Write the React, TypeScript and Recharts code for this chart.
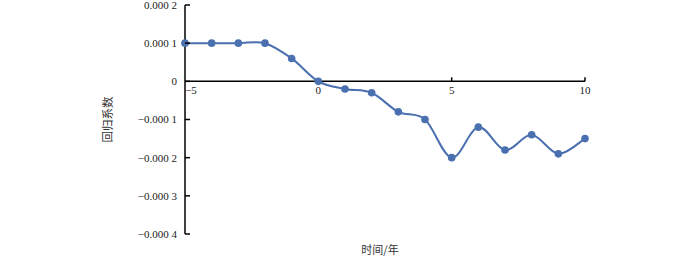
import React from 'react';
import { LineChart, Line, XAxis, YAxis, ReferenceLine, ReferenceDot, Label } from 'recharts';

const years = [-5, -4, -3, -2, -1, 0, 1, 2, 3, 4, 5, 6, 7, 8, 9, 10];
const coefficients = [
  0.0001, 0.0001, 0.0001, 0.0001, 0.00006, 0, -0.00002, -0.00003, -0.00008, -0.0001,
  -0.0002, -0.00012, -0.00018, -0.00014, -0.00019, -0.00015,
];
const yTicks = [0.0002, 0.0001, 0, -0.0001, -0.0002, -0.0003, -0.0004];
const yTickLabels = ['0.000 2', '0.000 1', '0', '\u22120.000 1', '\u22120.000 2', '\u22120.000 3', '\u22120.000 4'];
const xTicks = [-5, 0, 5, 10];
const xTickLabels = ['\u22125', '0', '5', '10'];

const data = years.map((t, i) => ({ t, v: coefficients[i] }));

const BLUE = '#4a70b0';
const SERIF = "'Liberation Serif', 'Times New Roman', serif";
const CJK = "'Noto Sans CJK SC', sans-serif";
const TICK_UP = 0.0000105;

// Catmull-Rom style smoothing (like spreadsheet "smooth line")
function smoothCurve(context: any) {
  let pts: number[][] = [];
  return {
    areaStart() {},
    areaEnd() {},
    lineStart() { pts = []; },
    point(x: number, y: number) { pts.push([+x, +y]); },
    lineEnd() {
      const n = pts.length;
      if (!n) return;
      context.moveTo(pts[0][0], pts[0][1]);
      for (let i = 0; i < n - 1; i++) {
        const p0 = pts[i - 1] || pts[i];
        const p1 = pts[i];
        const p2 = pts[i + 1];
        const p3 = pts[i + 2] || p2;
        const c1x = p1[0] + (p2[0] - p0[0]) / 6;
        const c1y = p1[1] + (p2[1] - p0[1]) / 6;
        const c2x = p2[0] - (p3[0] - p1[0]) / 6;
        const c2y = p2[1] - (p3[1] - p1[1]) / 6;
        context.bezierCurveTo(c1x, c1y, c2x, c2y, p2[0], p2[1]);
      }
    },
  };
}

const YTick = (props: any) => {
  const { x, y, payload } = props;
  const idx = yTicks.indexOf(payload.value);
  return (
    <g>
      <line x1={x} y1={y} x2={x + 5} y2={y} stroke="#000" strokeWidth={1.5} />
      <text x={x - 8} y={y} dy="0.35em" textAnchor="end" style={{ fontFamily: SERIF, fontSize: 11 }} fill="#222">
        {idx >= 0 ? yTickLabels[idx] : ''}
      </text>
    </g>
  );
};

export default function App() {
  return (
    <div style={{ position: 'absolute', left: 0, top: 0, width: 700, height: 256, background: '#fff', fontFamily: SERIF }}>
      <LineChart width={700} height={256} data={data} margin={{ top: 5, right: 115, bottom: 0, left: 0 }}>
        <XAxis
          dataKey="t"
          type="number"
          domain={[-5, 10]}
          ticks={xTicks}
          tick={false}
          axisLine={false}
          tickLine={false}
          height={22}
        >
          <Label value="时间/年" position="center" dx={-5} dy={5} fontSize={11} fill="#333" style={{ fontFamily: CJK }} />
        </XAxis>
        <YAxis
          type="number"
          domain={[-0.0004, 0.0002]}
          ticks={yTicks}
          interval={0}
          width={185}
          tickSize={0}
          tickMargin={0}
          tick={<YTick />}
          axisLine={{ stroke: '#000', strokeWidth: 1.5 }}
          tickLine={false}
        >
          <Label value="回归系数" angle={-90} position="center" dx={15} fontSize={11.5} fill="#333" style={{ fontFamily: CJK }} />
        </YAxis>
        <ReferenceLine y={0} stroke="#000" strokeWidth={1.5} ifOverflow="visible" />
        {xTicks.filter((t) => t > 0).map((t) => (
          <ReferenceLine
            key={'tk' + t}
            segment={[{ x: t, y: 0 }, { x: t, y: TICK_UP }]}
            stroke="#000"
            strokeWidth={1.5}
            ifOverflow="visible"
          />
        ))}
        {xTicks.map((t, i) => (
          <ReferenceDot
            key={'lb' + t}
            x={t}
            y={0}
            r={0}
            fill="none"
            stroke="none"
            ifOverflow="visible"
            label={{
              value: xTickLabels[i],
              position: 'bottom',
              offset: 5,
              dx: t === -5 ? 6 : 0,
              fontSize: 11,
              style: { fontFamily: SERIF },
              fill: '#222',
            }}
          />
        ))}
        <Line
          dataKey="v"
          type={smoothCurve as any}
          stroke={BLUE}
          strokeWidth={2}
          dot={{ r: 3.8, fill: BLUE, stroke: BLUE, strokeWidth: 0 }}
          activeDot={false}
          isAnimationActive={false}
        />
      </LineChart>
    </div>
  );
}
